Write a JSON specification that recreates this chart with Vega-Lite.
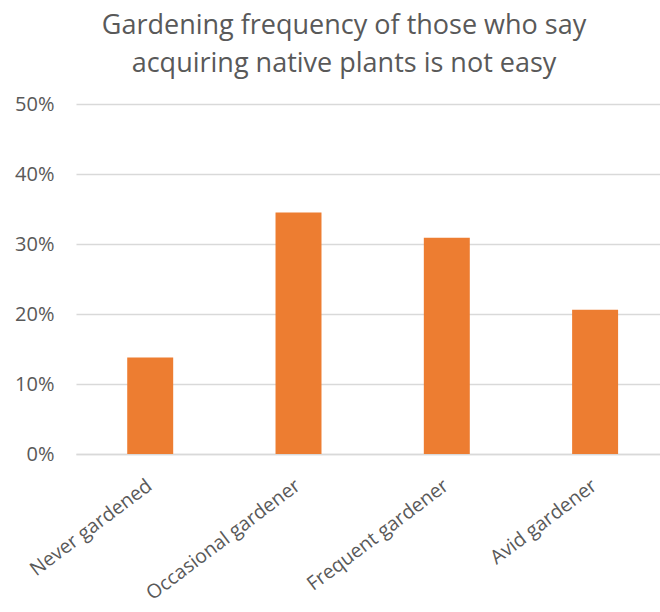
{
  "$schema": "https://vega.github.io/schema/vega-lite/v6.json",
  "autosize": "none",
  "width": 584,
  "height": 350,
  "padding": {"left": 76, "top": 104, "right": 0, "bottom": 158},
  "background": "white",
  "title": {
    "text": ["Gardening frequency of those who say", "acquiring native plants is not easy"],
    "anchor": "middle",
    "frame": "group",
    "dx": -24,
    "font": "Open Sans",
    "fontSize": 27,
    "fontWeight": "normal",
    "color": "#595959",
    "lineHeight": 38,
    "offset": 16
  },
  "data": {
    "values": [
      {"category": "Never gardened", "share": 0.138},
      {"category": "Occasional gardener", "share": 0.345},
      {"category": "Frequent gardener", "share": 0.309},
      {"category": "Avid gardener", "share": 0.206}
    ]
  },
  "mark": {"type": "bar", "color": "#ED7D31"},
  "encoding": {
    "x": {
      "field": "category",
      "type": "nominal",
      "sort": null,
      "title": null,
      "scale": {"paddingInner": 0.69, "paddingOuter": 0.314, "align": 0.55},
      "axis": {
        "labelAngle": -37,
        "labelFont": "Open Sans",
        "labelFontSize": 19.5,
        "labelColor": "#595959",
        "labelPadding": 22,
        "labelOffset": -6,
        "labelLimit": 0,
        "ticks": false,
        "domainColor": "#d9d9d9",
        "domainWidth": 1.5
      }
    },
    "y": {
      "field": "share",
      "type": "quantitative",
      "title": null,
      "scale": {"domain": [0, 0.5]},
      "axis": {
        "values": [0, 0.1, 0.2, 0.3, 0.4, 0.5],
        "format": ".0%",
        "labelFont": "Open Sans",
        "labelFontSize": 20,
        "labelColor": "#595959",
        "labelPadding": 22,
        "ticks": false,
        "domain": false,
        "gridColor": "#d9d9d9",
        "gridWidth": 1.5
      }
    }
  },
  "config": {"view": {"stroke": null}}
}
